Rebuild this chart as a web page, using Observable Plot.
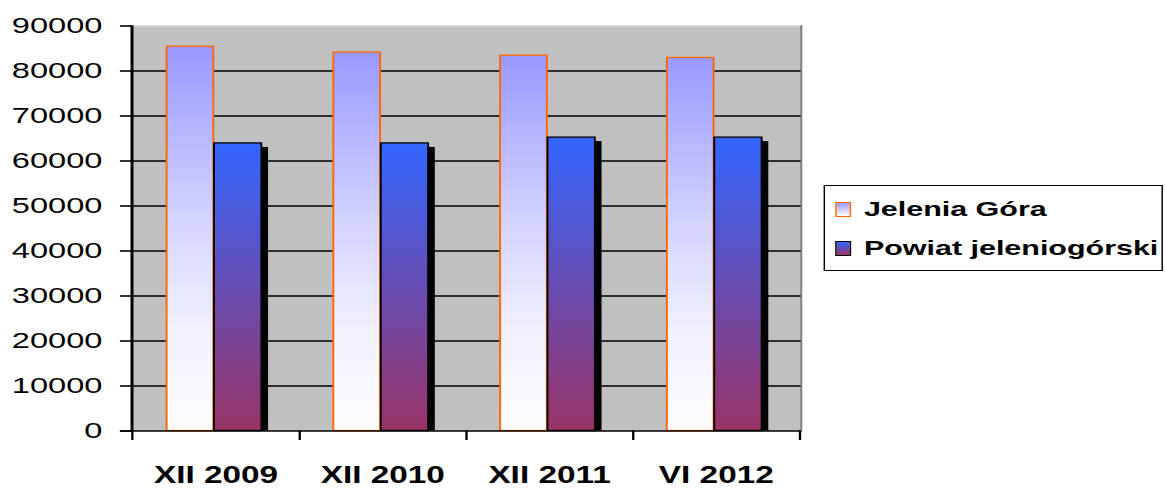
<!DOCTYPE html>
<html>
<head>
<meta charset="utf-8">
<script src="https://cdn.jsdelivr.net/npm/d3@7"></script>
<script src="https://cdn.jsdelivr.net/npm/@observablehq/plot@0.6"></script>
<style>
  html, body { margin: 0; padding: 0; background: #fff; overflow: hidden; }
  #wrap { position: relative; width: 803.4px; height: 488px; transform: scaleX(1.45); transform-origin: 0 0; }
  #chart { position: absolute; left: 0; top: 0; }
  #legend { position: absolute; left: 568.3px; top: 185px; width: 233.5px; height: 86px; box-sizing: border-box;
            border: 1px solid #000; background: #fff; font-family: "Liberation Sans", Arial, sans-serif;
            font-weight: bold; font-size: 21px; color: #000; }
  .row { position: absolute; left: 6.5px; display: flex; align-items: center; white-space: nowrap; }
  .sw { width: 11.5px; height: 15px; box-sizing: border-box; margin-right: 8.5px; }
</style>
</head>
<body>
<div id="wrap">
  <div id="chart"></div>
  <div id="legend"></div>
</div>
<script>
const categories = ["XII 2009", "XII 2010", "XII 2011", "VI 2012"];
const seriesNames = ["Jelenia Góra", "Powiat jeleniogórski"];
const jeleniaGora = [85400, 84100, 83400, 82900];
const powiat = [63900, 63900, 65200, 65200];
const yTicks = [0, 10000, 20000, 30000, 40000, 50000, 60000, 70000, 80000, 90000];

const W = 560, H = 488;
const mL = 90.3, mR = 7.9, mT = 25.5, mB = 57.5;
const bw = (W - mL - mR) / categories.length;

const dataJ = categories.map((c, i) => ({cat: c, value: jeleniaGora[i]}));
const dataP = categories.map((c, i) => ({cat: c, value: powiat[i]}));

const NS = "http://www.w3.org/2000/svg";
function defsMark() {
  const defs = document.createElementNS(NS, "defs");
  const mk = (id, stops) => {
    const g = document.createElementNS(NS, "linearGradient");
    g.setAttribute("id", id);
    g.setAttribute("x1", 0); g.setAttribute("y1", 0); g.setAttribute("x2", 0); g.setAttribute("y2", 1);
    for (const [o, c] of stops) {
      const s = document.createElementNS(NS, "stop");
      s.setAttribute("offset", o); s.setAttribute("stop-color", c);
      g.appendChild(s);
    }
    defs.appendChild(g);
  };
  mk("gJ", [[0, "#9999ff"], [0.45, "#d4d4ff"], [0.75, "#f2f2ff"], [1, "#fdfdff"]]);
  mk("gP", [[0, "#3366ff"], [0.5, "#664db3"], [1, "#993366"]]);
  return defs;
}

const jL = 0.207 * bw, jR = (1 - 0.490) * bw;
const pL = 0.490 * bw, pR = (1 - 0.777) * bw;

const plot = Plot.plot({
  width: W, height: H,
  marginLeft: mL, marginRight: mR, marginTop: mT, marginBottom: mB,
  style: {fontFamily: "'Liberation Sans', Arial, sans-serif", fontSize: "22.5px", color: "#000", background: "transparent"},
  x: {type: "band", domain: categories, padding: 0, axis: null},
  y: {domain: [0, 90000], axis: null},
  marks: [
    defsMark,
    Plot.frame({fill: "#c0c0c0", stroke: null}),
    Plot.frame({anchor: "top", stroke: "#d6d6d6", strokeWidth: 2}),
    Plot.frame({anchor: "right", stroke: "#808080", strokeWidth: 1.4}),
    Plot.ruleY(yTicks.filter(d => d > 0 && d < 90000), {stroke: "#000", strokeWidth: 1.6}),
    // shadow of Powiat bars
    Plot.barY(dataP, {x: "cat", y: "value", fill: "#000", dx: 4.6, dy: 4, insetBottom: 4, insetLeft: pL, insetRight: pR}),
    Plot.barY(dataJ, {x: "cat", y: "value", fill: "url(#gJ)", stroke: "#ff6600", strokeWidth: 1.3, insetLeft: jL, insetRight: jR}),
    Plot.barY(dataP, {x: "cat", y: "value", fill: "url(#gP)", stroke: "#000", strokeWidth: 1.3, insetLeft: pL, insetRight: pR}),
    // axes
    Plot.frame({anchor: "left", stroke: "#000", strokeWidth: 1.6}),
    Plot.ruleX([categories[0]], {x: d => d, dx: -bw / 2, y1: 90000, y2: 0, insetBottom: -9.5, stroke: "#000", strokeWidth: 1.6}),
    Plot.ruleY([0], {stroke: "#000", strokeWidth: 1.6, insetLeft: -7.6}),
    Plot.ruleX(categories, {x: d => d, dx: bw / 2, y1: 0, y2: 0, insetBottom: -9.5, stroke: "#000", strokeWidth: 1.6}),
    Plot.axisY({ticks: yTicks, tickSize: 7.6, tickPadding: 12.5, tickFormat: d => String(d), strokeWidth: 1.6, fontSize: 22.5, label: null}),
    Plot.axisX({tickSize: 0, tickPadding: 36, fontWeight: "bold", fontSize: 23, label: null})
  ]
});
document.getElementById("chart").appendChild(plot);

const legend = document.getElementById("legend");
const sw = [
  {bg: "linear-gradient(#9999ff, #ffffff)", border: "1.5px solid #ff6600"},
  {bg: "linear-gradient(#3366ff, #993366)", border: "1.5px solid #000"}
];
seriesNames.forEach((name, i) => {
  const row = document.createElement("div");
  row.className = "row";
  row.style.top = (i === 0 ? 11 : 50) + "px";
  const s = document.createElement("div");
  s.className = "sw";
  s.style.background = sw[i].bg;
  s.style.border = sw[i].border;
  const t = document.createElement("span");
  t.textContent = name;
  row.appendChild(s); row.appendChild(t);
  legend.appendChild(row);
});
</script>
</body>
</html>
